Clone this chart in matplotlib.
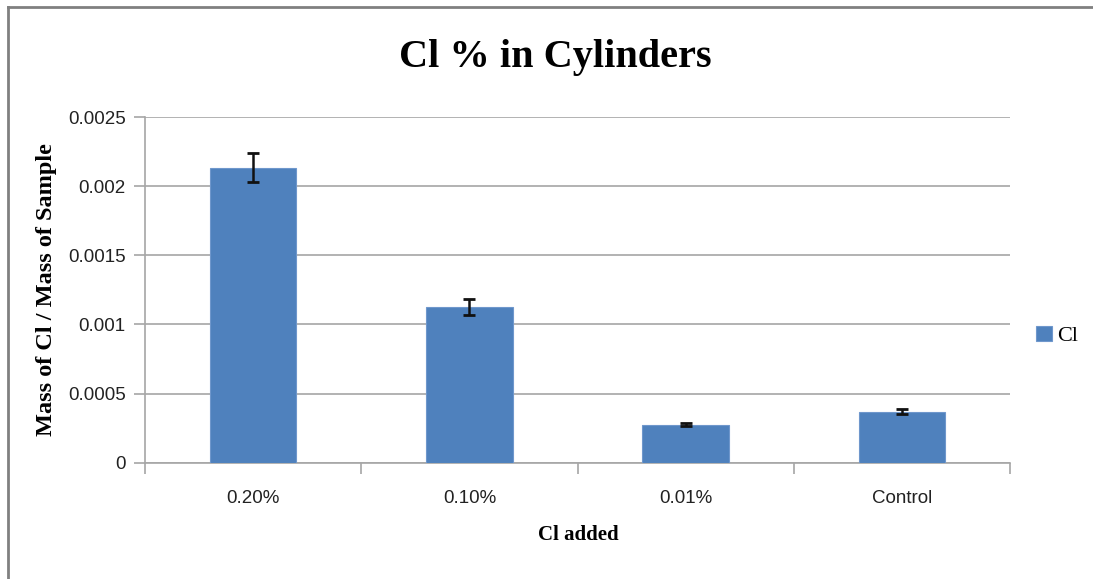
import matplotlib
matplotlib.use("Agg")
import matplotlib.pyplot as plt
from matplotlib.lines import Line2D
import numpy as np

# data
categories = ["0.20%", "0.10%", "0.01%", "Control"]
cl_mass = [0.002133, 0.001126, 0.000275, 0.000369]
cl_err = [0.000105, 0.000056, 0.000012, 0.000018]
yticks = [0, 0.0005, 0.001, 0.0015, 0.002, 0.0025]
ytick_labels = ["0", "0.0005", "0.001", "0.0015", "0.002", "0.0025"]

bar_color = "#4f81bd"
grid_color = "#a6a6a6"
serif = ["Liberation Serif", "DejaVu Serif"]
sans = ["Liberation Sans Narrow", "Liberation Sans", "DejaVu Sans"]

fig = plt.figure(figsize=(10.93, 5.79), dpi=100)
ax = fig.add_axes([145 / 1093, 1 - 462.7 / 579, 865 / 1093, 345.7 / 579])

x = np.arange(len(categories))
ax.bar(x, cl_mass, width=0.4, color=bar_color, edgecolor="#6f97cc", linewidth=0.8,
       label="Cl", zorder=3)
ax.errorbar(x, cl_mass, yerr=cl_err, fmt="none", ecolor="#111111", elinewidth=1.8,
            capsize=4.5, capthick=2, zorder=4)

ax.set_xlim(-0.5, len(categories) - 0.5)
ax.set_ylim(0, 0.0025)
ax.set_yticks(yticks)
ax.set_yticklabels(ytick_labels, family=sans, fontsize=13.5, color="#222222")
ax.set_xticks(x)
ax.set_xticklabels(categories, family=sans, fontsize=13.5, color="#222222")
ax.set_xticks(np.arange(len(categories) + 1) - 0.5, minor=True)
ax.tick_params(axis="x", which="major", length=0, pad=20)
ax.tick_params(axis="x", which="minor", length=8, color=grid_color, width=1.2)
ax.tick_params(axis="y", length=8, color=grid_color, width=1.2, pad=6)

ax.grid(axis="y", color=grid_color, linewidth=1.2, zorder=0)
for side in ["top", "right"]:
    ax.spines[side].set_visible(False)
ax.spines["left"].set_color(grid_color)
ax.spines["bottom"].set_color(grid_color)
ax.spines["left"].set_linewidth(1.2)
ax.spines["bottom"].set_linewidth(1.2)

fig.text(555 / 1093, 1 - 57 / 579, "Cl % in Cylinders", ha="center", va="center",
         family=serif, fontweight="bold", fontsize=29)
fig.text(47 / 1093, 1 - 290 / 579, "Mass of Cl / Mass of Sample", ha="center",
         va="center", rotation=90, family=serif, fontweight="bold", fontsize=17.5)
fig.text(578 / 1093, 1 - 535 / 579, "Cl added", ha="center", va="center",
         family=serif, fontweight="bold", fontsize=15)

leg = ax.legend(loc="center left", bbox_to_anchor=(1036 / 1093, 1 - 336 / 579),
                bbox_transform=fig.transFigure, frameon=False,
                prop={"family": serif, "size": 16}, handlelength=0.7, handleheight=0.7,
                handletextpad=0.25, borderpad=0, borderaxespad=0)

# outer chart frame (top and left edges only are visible)
fig.add_artist(Line2D([8 / 1093, 1], [1 - 7 / 579, 1 - 7 / 579], color="#808080",
                      linewidth=2, transform=fig.transFigure))
fig.add_artist(Line2D([8 / 1093, 8 / 1093], [0, 1 - 7 / 579], color="#808080",
                      linewidth=2, transform=fig.transFigure))

fig.savefig("out.png", dpi=100)
